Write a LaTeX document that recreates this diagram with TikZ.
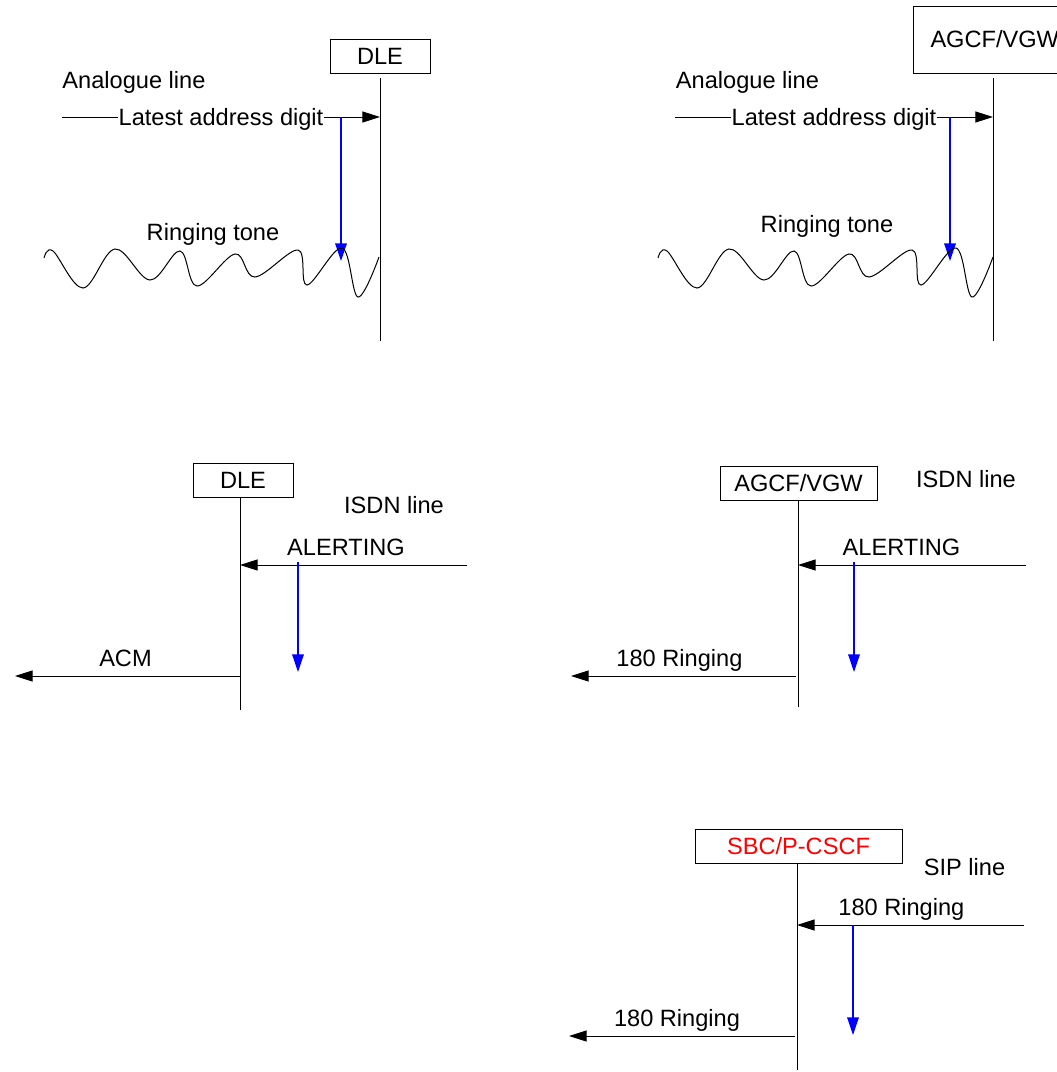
\documentclass[tikz,border=0pt]{standalone}
\usepackage{fontspec}
\setmainfont{Liberation Sans}
\usetikzlibrary{arrows.meta,positioning,calc}
\tikzset{
  every picture/.style={line width=0.5pt},
  every node/.style={font=\fontsize{11.8}{14}\selectfont},
}

\begin{document}
\begin{tikzpicture}[x=0.5pt, y=-0.5pt]
    \tikzset{
      entity/.style={draw, inner sep=0pt, minimum height=17pt},
      msg/.style={-{Triangle[length=8.8pt, width=5.5pt]}},
      cue/.style={blue, line width=0.6pt, -{Triangle[length=8.8pt, width=5.8pt]}},
      desc/.style={anchor=base, yshift=5pt},
      inline/.style={fill=white, inner xsep=0.5pt, inner ysep=1pt, anchor=base, yshift=-4pt},
      note/.style={anchor=base},
      tone/.pic={
        \draw plot[smooth, tension=0.6] coordinates {(44,258) (53,251) (83,288) (115,249) (150,280)
          (180,251) (197,286) (235,254) (255,277) (298,250) (307,285) (342,248) (358,297) (379,257)};
      },
    }
    \useasboundingbox (0,0) rectangle (1056,1072);

    % analogue line, DLE
    \node[entity, minimum width=50pt] (dleA) at (380,56) {DLE};
    \coordinate (dleAtop) at (380,78);
    \coordinate (dleAend) at (380,341);
    \coordinate (ladA) at (62,117);
    \node[note] (anA) at (134,88) {Analogue line};
    \node[note] (rtA) at (213,240) {Ringing tone};
    \draw (dleAtop) -- (dleAend);
    \draw[msg] (ladA) -- node[inline] {Latest address digit} (ladA -| dleAend);
    \draw[cue] (341,117) -- (341,261);
    \pic at (0,0) {tone};

    % analogue line, AGCF/VGW
    \node[entity, anchor=west, minimum height=33.5pt, inner xsep=8.5pt] (agcfA) at (913,39.5) {AGCF/VGW};
    \coordinate (agcfAtop) at (993,78);
    \coordinate (agcfAend) at (993,341);
    \coordinate (ladB) at (675,117);
    \node[note] (anB) at (747.5,88) {Analogue line};
    \node[note] (rtB) at (827,232) {Ringing tone};
    \draw (agcfAtop) -- (agcfAend);
    \draw[msg] (ladB) -- node[inline] {Latest address digit} (ladB -| agcfAend);
    \draw[cue] (950,117) -- (950,261);
    \pic at (614,0) {tone};

    % ISDN line, DLE
    \node[entity, minimum width=50pt] (dleB) at (243,480) {DLE};
    \coordinate (dleBend) at (240,710);
    \coordinate (alertA) at (467,565);
    \coordinate (acmA) at (15,676);
    \node[note] (isdnA) at (394,513) {ISDN line};
    \draw (dleB.south -| dleBend) -- (dleBend);
    \draw[msg] (alertA) -- node[desc, pos=0.533] {ALERTING} (alertA -| dleBend);
    \draw[msg] (acmA -| dleBend) -- node[desc, pos=0.509] {ACM} (acmA);
    \draw[cue] (298,562) -- (298,672);

    % ISDN line, AGCF/VGW
    \node[entity, minimum width=78.5pt] (agcfB) at (798.5,483) {AGCF/VGW};
    \coordinate (agcfBend) at (798,707);
    \coordinate (alertB) at (1026,565);
    \coordinate (ringB) at (571,676);
    \node[note] (isdnB) at (966,487) {ISDN line};
    \draw (agcfB.south -| agcfBend) -- (agcfBend);
    \draw[msg] (alertB) -- node[desc, pos=0.546] {ALERTING} (alertB -| agcfBend);
    \draw[msg] ($(ringB -| agcfBend)+(-2,0)$) -- node[desc, pos=0.518] {180 Ringing} (ringB);
    \draw[cue] (854,562) -- (854,672);

    % SIP line, SBC/P-CSCF
    \node[entity, minimum width=103.5pt, text=red] (sbc) at (798.5,846) {SBC/P-CSCF};
    \coordinate (sbcend) at (797,1070);
    \coordinate (ringC) at (1024,925);
    \coordinate (ringD) at (569,1036);
    \node[note] (sip) at (964.5,875) {SIP line};
    \draw (sbc.south -| sbcend) -- (sbcend);
    \draw[msg] (ringC) -- node[desc, pos=0.54] {180 Ringing} (ringC -| sbcend);
    \draw[msg] ($(ringD -| sbcend)+(-2,0)$) -- node[desc, pos=0.522] {180 Ringing} (ringD);
    \draw[cue] (853,925) -- (853,1035);
\end{tikzpicture}
\end{document}
